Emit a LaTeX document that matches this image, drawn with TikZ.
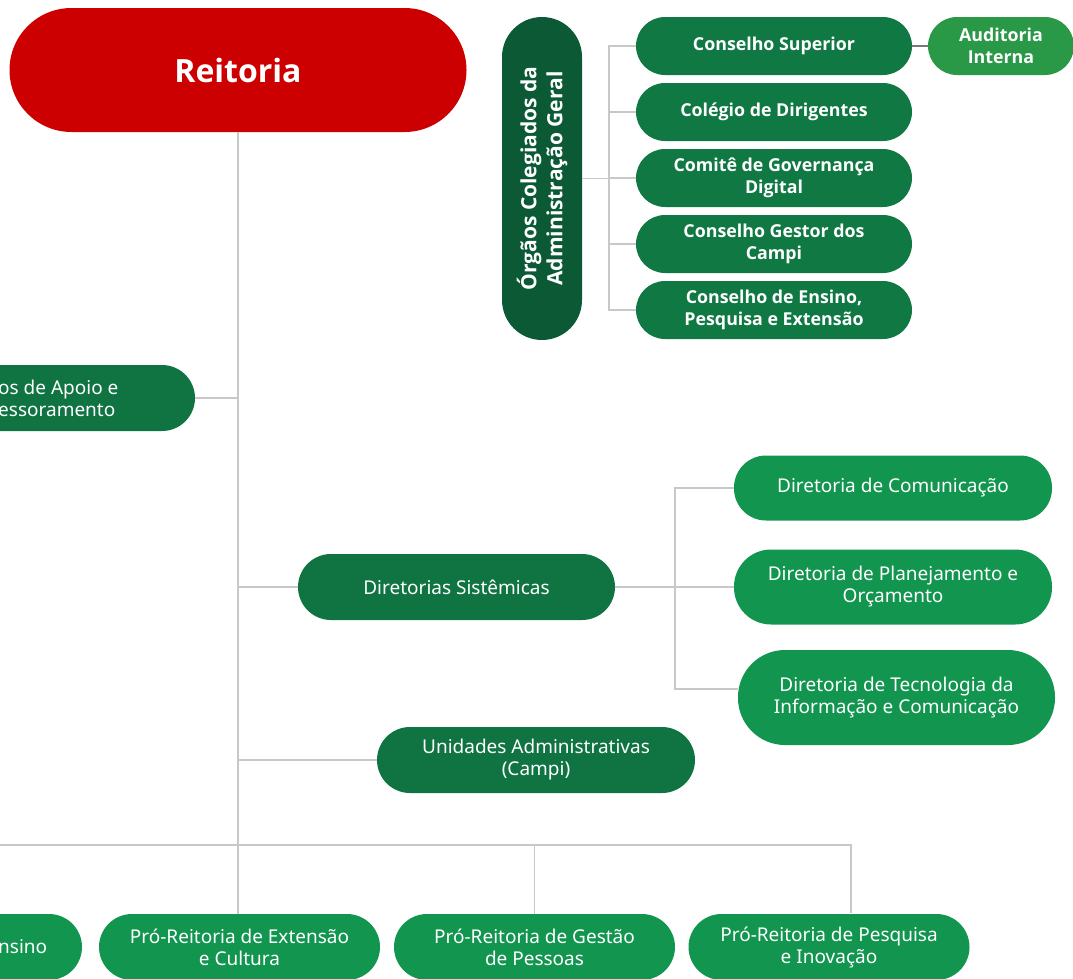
\documentclass[tikz,border=0pt]{standalone}
\usepackage{fontspec}
\setmainfont{Noto Sans}
\newfontfamily\osans{Open Sans}
\definecolor{reit}{HTML}{CC0000}
\definecolor{orgc}{HTML}{0B5A35}
\definecolor{topg}{HTML}{107843}
\definecolor{midg}{HTML}{0F7442}
\definecolor{ltg}{HTML}{12964F}
\definecolor{audg}{HTML}{2A9947}
\definecolor{linegray}{HTML}{C8C8C8}
\definecolor{darkline}{HTML}{777777}
\begin{document}
\begin{tikzpicture}[x=1pt,y=-1pt,
  pill/.style={rectangle, text=white, align=center, inner sep=0pt},
  topfont/.style={font=\osans\bfseries\fontsize{17.8}{22}\selectfont},
  midfont/.style={font=\fontsize{19}{22}\selectfont},
  conn/.style={draw=linegray, line width=1.8pt}]
\useasboundingbox (0,0) rectangle (1073,978);
\clip (0,0) rectangle (1073,978);

% Reitoria
\node[pill, fill=reit, minimum width=457, minimum height=124, rounded corners=62,
  font=\osans\bfseries\fontsize{32}{40}\selectfont] (reit) at (238,70) {Reitoria};

% Orgaos colegiados
\node[pill, fill=orgc, minimum width=323, minimum height=80, rounded corners=40, rotate=90,
  font=\osans\bfseries\fontsize{21}{26}\selectfont] (org) at (542,178.5) {Órgãos Colegiados da\\Administração Geral};

\node[pill, fill=topg, minimum width=276, minimum height=58, rounded corners=29, topfont] (cs) at (774,46) {Conselho Superior};
\node[pill, fill=topg, minimum width=276, minimum height=58, rounded corners=29, topfont] (cd) at (774,112) {Colégio de Dirigentes};
\node[pill, fill=topg, minimum width=276, minimum height=58, rounded corners=29, topfont] (cg) at (774,178) {Comitê de Governança\\Digital};
\node[pill, fill=topg, minimum width=276, minimum height=58, rounded corners=29, topfont] (cc) at (774,244) {Conselho Gestor dos\\Campi};
\node[pill, fill=topg, minimum width=276, minimum height=58, rounded corners=29, topfont] (ce) at (774,310) {Conselho de Ensino,\\Pesquisa e Extensão};
\node[pill, fill=audg, minimum width=146, minimum height=58, rounded corners=29, topfont] (aud) at (1001,46) {Auditoria\\Interna};

% Apoio (cut at left edge)
\node[pill, fill=midg, minimum width=314, minimum height=66, rounded corners=33] (apoio) at (38,398) {};
\node[text=white, anchor=west, align=left, inner sep=0pt, midfont] (apoiot) at (-2,398) {os de Apoio e\\essoramento};

% Diretorias
\node[pill, fill=midg, minimum width=317, minimum height=66, rounded corners=33, midfont] (ds) at (456.5,587) {Diretorias Sistêmicas};
\node[pill, fill=ltg, minimum width=318, minimum height=65, rounded corners=32, midfont] (dc) at (893,488) {Diretoria de Comunicação};
\node[pill, fill=ltg, minimum width=318, minimum height=75, rounded corners=37, midfont] (dp) at (893,587) {Diretoria de Planejamento e\\Orçamento};
\node[pill, fill=ltg, minimum width=317, minimum height=95, rounded corners=47, midfont] (dt) at (896.5,697.5) {Diretoria de Tecnologia da\\Informação e Comunicação};

% Unidades
\node[pill, fill=midg, minimum width=318, minimum height=66, rounded corners=33, midfont] (un) at (536,760) {Unidades Administrativas\\(Campi)};

% Pro-Reitorias
\node[pill, fill=ltg, minimum width=281, minimum height=66, rounded corners=33] (ens) at (-58.5,947) {};
\node[text=white, anchor=west, inner sep=0pt, midfont] (enst) at (-2,947) {nsino};
\node[pill, fill=ltg, minimum width=281, minimum height=66, rounded corners=33, midfont] (ext) at (239.5,947) {Pró-Reitoria de Extensão\\e Cultura};
\node[pill, fill=ltg, minimum width=281, minimum height=66, rounded corners=33, midfont] (ges) at (534.5,947) {Pró-Reitoria de Gestão\\de Pessoas};
\node[pill, fill=ltg, minimum width=281, minimum height=66, rounded corners=33, midfont] (pes) at (829,947) {Pró-Reitoria de Pesquisa\\e Inovação};

% coordinates
\coordinate (busA) at (609,0);
\coordinate (busD) at (675,0);
\coordinate (trunk) at (238,0);
\coordinate (busB) at (0,845);
\coordinate (pesin) at (851,913);

% connectors: colegiados
\draw[conn] (org.south) -- (org.south -| busA);
\draw[conn] (cs.west) -- (cs.west -| busA) -- (ce.west -| busA) -- (ce.west);
\draw[conn] (cd.west -| busA) -- (cd.west);
\draw[conn] (cg.west -| busA) -- (cg.west);
\draw[conn] (cc.west -| busA) -- (cc.west);
\draw[draw=darkline, line width=1.6pt] (cs.east) -- (aud.west);

% trunk
\draw[conn] (reit.south) -- (ext.north -| trunk);
\draw[conn] (apoio.east) -- (apoio.east -| trunk);
\draw[conn] (ds.west -| trunk) -- (ds.west);
\draw[conn] (un.west -| trunk) -- (un.west);

% diretorias
\draw[conn] (ds.east) -- (dp.west);
\draw[conn] (dc.west) -- (dc.west -| busD) -- ([yshift=8.5pt]dt.west -| busD) -- ([yshift=8.5pt]dt.west);

% bottom bus
\draw[conn] (ens.north) -- (ens.north |- busB) -- (pesin |- busB) -- (pesin);
\draw[conn] (ges.north |- busB) -- (ges.north);
\end{tikzpicture}
\end{document}
